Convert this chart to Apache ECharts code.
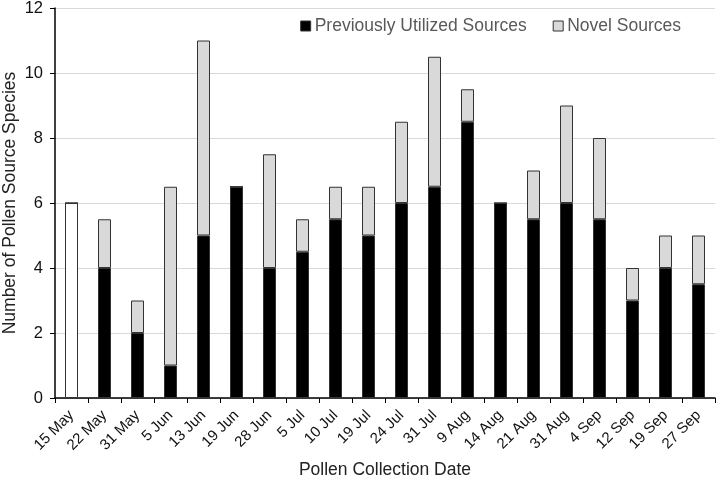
<!DOCTYPE html>
<html>
<head>
<meta charset="utf-8">
<script src="https://cdn.jsdelivr.net/npm/echarts@6/dist/echarts.min.js"></script>
<style>
html, body { margin: 0; padding: 0; background: #fff; }
#chart { width: 716px; height: 481px; }
</style>
</head>
<body>
<div id="chart"></div>
<script>
var dates = ['15 May', '22 May', '31 May', '5 Jun', '13 Jun', '19 Jun', '28 Jun', '5 Jul', '10 Jul', '19 Jul',
	'24 Jul', '31 Jul', '9 Aug', '14 Aug', '21 Aug', '31 Aug', '4 Sep', '12 Sep', '19 Sep', '27 Sep'];
var previous = [6, 4, 2, 1, 5, 6.5, 4, 4.5, 5.5, 5, 6, 6.5, 8.5, 6, 5.5, 6, 5.5, 3, 4, 3.5];
var novel = [0, 1.5, 1, 5.5, 6, 0, 3.5, 1, 1, 1.5, 2.5, 4, 1, 0, 1.5, 3, 2.5, 1, 1, 1.5];
var yTicks = [0, 2, 4, 6, 8, 10, 12];

var font = 'Liberation Sans, Arial, sans-serif';

//第一个柱子是白色的
var prevData = [];
for (var i = 0; i < previous.length; i++) {
	if (i == 0) {
		prevData.push({ value: previous[i], itemStyle: { color: '#fff', borderColor: '#333', borderWidth: 1 } });
	} else {
		prevData.push(previous[i]);
	}
}

var myChart = echarts.init(document.getElementById('chart'));
var option = {
	animation: false,
	textStyle: { fontFamily: font },
	grid: { left: 55, right: 1, top: 8, bottom: 83, outerBoundsMode: 'none' },
	legend: {
		top: 12, right: 30,
		icon: 'rect',
		itemWidth: 10, itemHeight: 10, itemGap: 26,
		textStyle: { fontSize: 17.5, color: '#595959', fontFamily: font, padding: [0, 0, 0, -1] },
		data: [
			{ name: 'Previously Utilized Sources', itemStyle: { color: '#000', borderColor: '#333', borderWidth: 1 } },
			{ name: 'Novel Sources', itemStyle: { color: '#d9d9d9', borderColor: '#333', borderWidth: 1 } }
		]
	},
	xAxis: {
		type: 'category',
		data: dates,
		name: 'Pollen Collection Date',
		nameLocation: 'middle',
		nameMoveOverlap: false,
		nameGap: 63,
		nameTextStyle: { fontSize: 17.5, color: '#222' },
		axisLine: { lineStyle: { color: '#000', width: 1.5 } },
		axisTick: { show: true, length: 5, lineStyle: { color: '#000' } },
		axisLabel: { rotate: 45, fontSize: 15, color: '#111', interval: 0, margin: 15 }
	},
	yAxis: {
		type: 'value',
		min: 0, max: yTicks[yTicks.length - 1], interval: 2,
		name: 'Number of Pollen Source Species',
		nameLocation: 'middle',
		nameMoveOverlap: false,
		nameGap: 36,
		nameTextStyle: { fontSize: 17.5, color: '#222' },
		axisLine: { show: true, lineStyle: { color: '#000', width: 1.5 } },
		axisTick: { show: true, length: 5, lineStyle: { color: '#000' } },
		axisLabel: { fontSize: 16.5, color: '#111', margin: 12 },
		splitLine: { lineStyle: { color: '#d9d9d9', width: 1 } }
	},
	series: [
		{
			name: 'Previously Utilized Sources', type: 'bar', stack: 'total',
			barWidth: 13,
			itemStyle: { color: '#000', borderColor: '#333', borderWidth: 1 },
			data: prevData
		},
		{
			name: 'Novel Sources', type: 'bar', stack: 'total',
			barWidth: 13,
			itemStyle: { color: '#d9d9d9', borderColor: '#333', borderWidth: 1 },
			data: novel
		}
	]
};
myChart.setOption(option);
</script>
</body>
</html>
